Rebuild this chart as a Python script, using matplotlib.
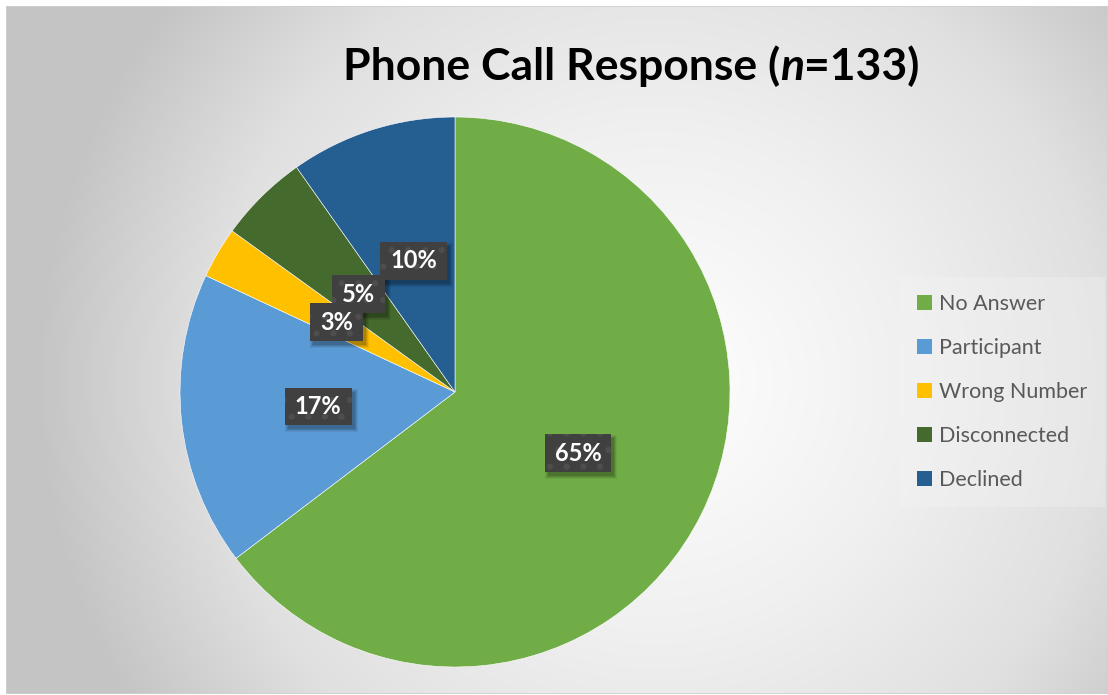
import matplotlib
matplotlib.use("Agg")
import matplotlib.pyplot as plt
from matplotlib.patches import Patch, Rectangle
from matplotlib.path import Path
import numpy as np

# data
categories = ["No Answer", "Participant", "Wrong Number", "Disconnected", "Declined"]
counts = [86, 23, 4, 7, 13]
colors = ["#70AD47", "#5B9BD5", "#FFC000", "#446A2D", "#255E91"]
n_total = 133

W, H = 1108, 695
fig = plt.figure(figsize=(W / 100, H / 100), dpi=100)
fig.patch.set_facecolor("white")

# background: radial grey gradient (Excel-style chart area)
bg = fig.add_axes([6 / W, 1 / H, 1 - 6 / W, 688 / H])
bg.set_axis_off()
gx, gy = np.meshgrid(np.arange(W - 6), np.arange(688))
r = np.hypot(gx - 650, gy - 375)
grey = np.interp(r, [0, 250, 450, 620], [255, 240, 224, 196]) / 255.0
bg.imshow(np.dstack([grey, grey, grey]), aspect="auto", interpolation="bilinear")
bg.add_patch(Rectangle((0, 0), 1, 1, transform=bg.transAxes, fill=False,
                       ec="#d0d0d0", lw=1.2))

# pie
R = 275
cx, cy = 455, 392
ax = fig.add_axes([(cx - R) / W, (H - cy - R) / H, 2 * R / W, 2 * R / H])
ax.set_axis_off()
wedges, texts, autotexts = ax.pie(
    counts, colors=colors, startangle=90, counterclock=False, radius=1,
    autopct=lambda p: f"{p:.0f}%", pctdistance=0.5,
    wedgeprops=dict(edgecolor="white", linewidth=0.4),
    textprops=dict(color="white", fontsize=17, fontweight="bold", family="Lato"))
ax.set_xlim(-1, 1)
ax.set_ylim(-1, 1)


def label_box(x0, y0, width, height, mutation_size):
    # wider than tall padding, like the Excel data label callouts
    px, pt, pb = 0.42 * mutation_size, 0.32 * mutation_size, 0.3 * mutation_size
    return Path([(x0 - px, y0 - pb), (x0 + width + px, y0 - pb),
                 (x0 + width + px, y0 + height + pt), (x0 - px, y0 + height + pt),
                 (x0 - px, y0 - pb)], closed=True)


# data label boxes: dark dotted fill; earlier slices sit on top
plt.rcParams["hatch.linewidth"] = 2.0
for i, t in enumerate(autotexts):
    t.set_zorder(10 - i)
    t.set_bbox(dict(boxstyle=label_box, fc="#404040", ec="#4e4e4e",
                    hatch=".", lw=0))

# title with italic n
tsize = 32
ty = 1 - 80 / H
parts = [("Phone Call Response (", "normal"), ("n", "italic"), ("=133)", "normal")]
fig.canvas.draw()
renderer = fig.canvas.get_renderer()
pieces = []
for s, style in parts:
    pieces.append(fig.text(0, ty, s, fontsize=tsize, fontweight="bold", style=style,
                           family="Lato", color="black", va="baseline", ha="left"))
widths = [p.get_window_extent(renderer).width for p in pieces]
x = 631 - sum(widths) / 2
for p, w in zip(pieces, widths):
    p.set_x(x / W)
    x += w

# soft drop shadows behind the label boxes (pixel coords)
fig.canvas.draw()
for t in autotexts:
    bb = t.get_bbox_patch().get_window_extent(renderer)
    for grow, a in [(3, 0.06), (2, 0.08), (1, 0.10), (0, 0.12)]:
        ax.add_patch(Rectangle((bb.x0 + 3 - grow, bb.y0 - 4 - grow),
                               bb.width + 2 * grow, bb.height + 2 * grow,
                               transform=None, fc="black", alpha=a, lw=0, zorder=4))

# legend
handles = [Patch(facecolor=c, edgecolor="none") for c in colors]
leg = fig.legend(handles, categories, loc="center left",
                 bbox_to_anchor=(906 / W, 1 - 392 / H), borderaxespad=0,
                 frameon=True, labelspacing=1.12,
                 handlelength=0.7, handleheight=0.7, handletextpad=0.35,
                 borderpad=0.5, prop=dict(family="Lato", size=15.5))
leg.get_frame().set_facecolor("#f4f4f4")
leg.get_frame().set_alpha(0.35)
leg.get_frame().set_edgecolor("none")
leg.get_frame().set_boxstyle("square")
for t in leg.get_texts():
    t.set_color("#595959")

fig.savefig("out.png", dpi=100)
